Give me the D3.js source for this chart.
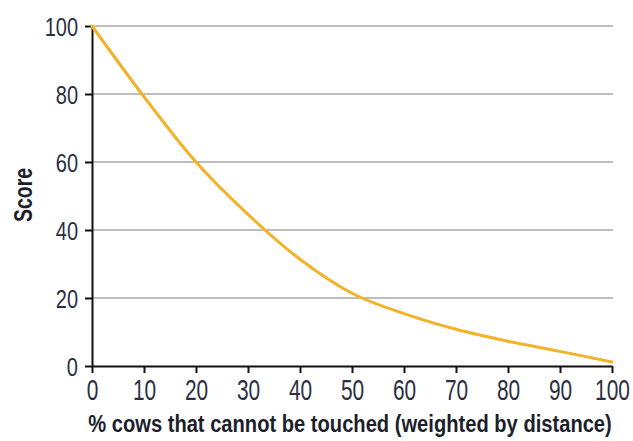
<!DOCTYPE html>
<html>
<head>
<meta charset="utf-8">
<script src="https://cdn.jsdelivr.net/npm/d3@7"></script>
<style>
  html, body { margin: 0; padding: 0; background: #fff; }
  svg { display: block; }
  text { font-family: "Liberation Sans", Arial, sans-serif; }
</style>
</head>
<body>
<svg id="chart" width="633" height="441"></svg>
<script>
// Data
const xValues = [0, 10, 20, 30, 40, 50, 60, 70, 80, 90, 100];
const scores  = [100, 79.2, 60, 44.6, 31.4, 21.4, 15.4, 10.8, 7.3, 4.3, 1.2];
const xTicks = [0, 10, 20, 30, 40, 50, 60, 70, 80, 90, 100];
const yTicks = [0, 20, 40, 60, 80, 100];
const xTitle = "% cows that cannot be touched (weighted by distance)";
const yTitle = "Score";

const svg = d3.select("#chart");
const margin = { left: 92, right: 21, top: 26, bottom: 75 };
const W = 633, H = 441;
const x = d3.scaleLinear().domain([0, 100]).range([margin.left, W - margin.right]);
const y = d3.scaleLinear().domain([0, 100]).range([H - margin.bottom, margin.top]);

// gridlines
svg.append("g")
  .selectAll("line")
  .data(yTicks.filter(d => d > 0))
  .join("line")
  .attr("x1", x(0)).attr("x2", x(100) + 1)
  .attr("y1", d => y(d)).attr("y2", d => y(d))
  .attr("stroke", "#a8a8a8").attr("stroke-width", 1.4);

// y axis
const yAxis = svg.append("g")
  .attr("transform", `translate(${x(0)},0)`)
  .call(d3.axisLeft(y).tickValues(yTicks).tickSize(7).tickPadding(7).tickSizeOuter(0));
yAxis.select(".domain").attr("stroke", "#111").attr("stroke-width", 2);
yAxis.selectAll(".tick line").attr("stroke", "#111").attr("stroke-width", 2);
yAxis.selectAll(".tick text")
  .attr("font-size", 25).attr("fill", "#2c2f3f")
  .attr("x", 0).attr("dy", "0.36em")
  .attr("transform", "translate(-14,0) scale(0.8,1)");

// x axis
const xAxis = svg.append("g")
  .attr("transform", `translate(0,${y(0)})`)
  .call(d3.axisBottom(x).tickValues(xTicks).tickSize(7).tickPadding(6).tickSizeOuter(0));
xAxis.select(".domain").attr("stroke", "#111").attr("stroke-width", 2);
xAxis.selectAll(".tick line").attr("stroke", "#111").attr("stroke-width", 2);
xAxis.selectAll(".tick text")
  .attr("font-size", 29).attr("fill", "#2c2f3f")
  .attr("dy", null).attr("y", 0)
  .attr("transform", "translate(0,34) scale(0.72,1)");

// curve
const pts = xValues.map((d, i) => [d, scores[i]]);
svg.append("path")
  .datum(pts)
  .attr("fill", "none")
  .attr("stroke", "#f2b229")
  .attr("stroke-width", 3)
  .attr("stroke-linecap", "round")
  .attr("d", d3.line().x(d => x(d[0])).y(d => y(d[1])).curve(d3.curveCatmullRom.alpha(0.5)));

// x title: fit to 524px wide, keep ~24px tall glyphs via vertical scaling
const targetW = 524, baseSize = 24;
const xt = svg.append("text")
  .attr("text-anchor", "middle")
  .attr("font-weight", "bold")
  .attr("fill", "#1c1e2c")
  .attr("font-size", baseSize)
  .text(xTitle);
const natW = xt.node().getComputedTextLength();
const fitSize = baseSize * targetW / natW;
xt.attr("font-size", fitSize)
  .attr("transform", `translate(350,432) scale(1,${baseSize / fitSize})`);

// y title
svg.append("text")
  .attr("transform", "translate(32,195) rotate(-90)")
  .attr("text-anchor", "middle")
  .attr("font-size", 25).attr("font-weight", "bold")
  .attr("fill", "#1c1e2c")
  .attr("textLength", 54).attr("lengthAdjust", "spacingAndGlyphs")
  .text(yTitle);
</script>
</body>
</html>
